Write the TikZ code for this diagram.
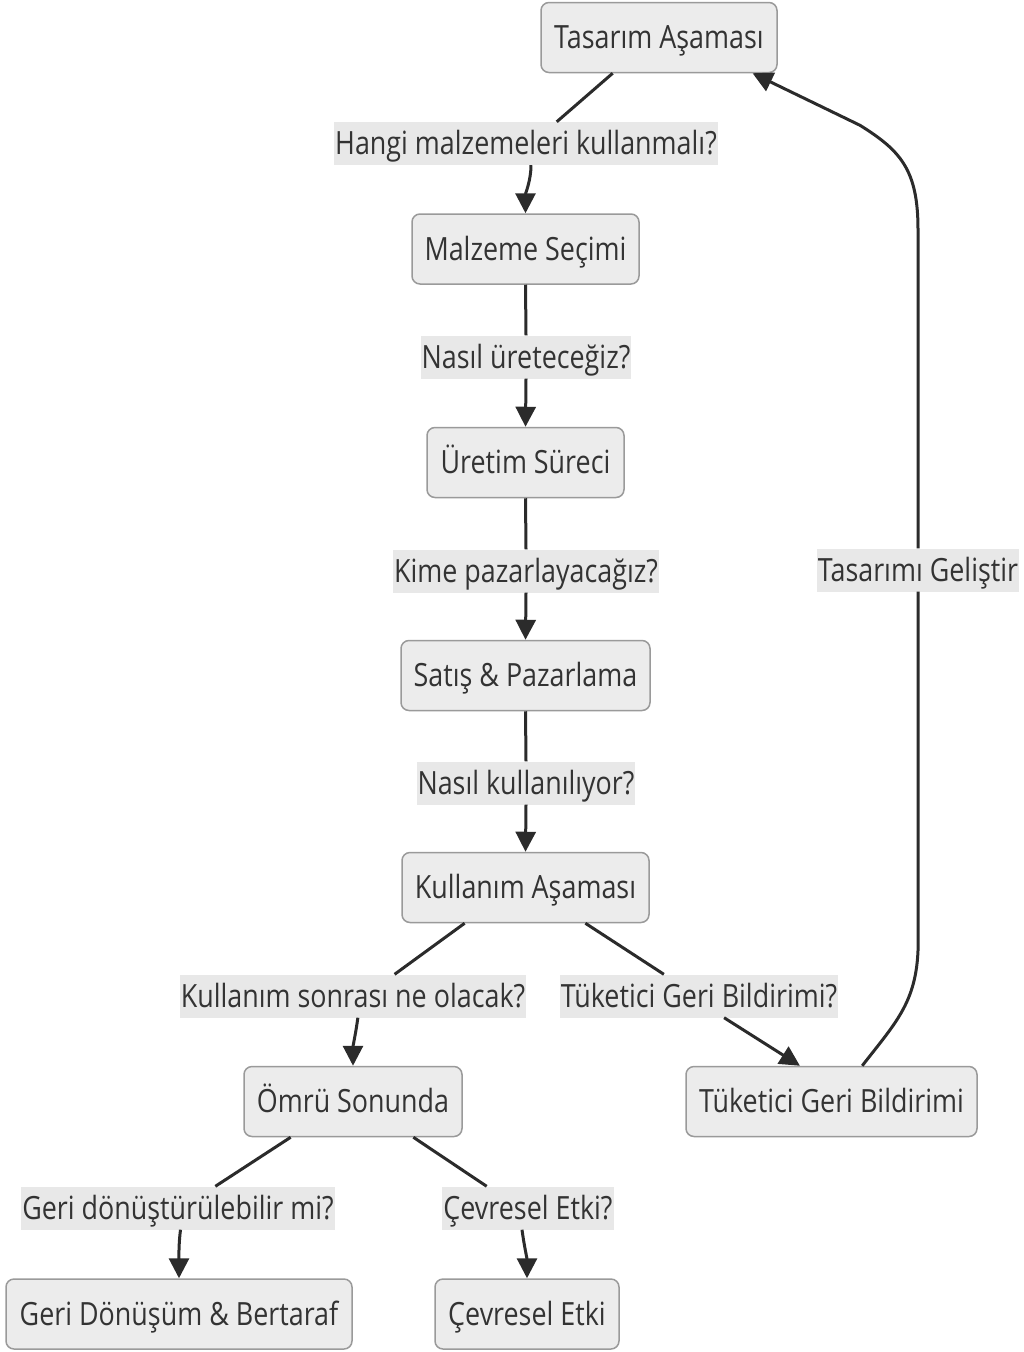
\documentclass[tikz,border=0pt]{standalone}
\usepackage{fontspec}
\setmainfont[FakeStretch=0.84]{Open Sans}
\usetikzlibrary{arrows.meta,calc}
\definecolor{nodefill}{HTML}{ECECEC}
\definecolor{nodeline}{HTML}{9A9A9A}
\definecolor{lblfill}{HTML}{E8E8E8}
\definecolor{txt}{HTML}{333333}
\definecolor{edgecol}{HTML}{2B2B2B}
\begin{document}
\begin{tikzpicture}[x=1pt,y=-1pt,
  box/.style={draw=nodeline,line width=1.5pt,fill=nodefill,rounded corners=8pt,
    minimum height=70pt,text=txt,font=\fontsize{32}{36}\selectfont,inner sep=0pt,
    text height=27pt,text depth=5pt},
  lbl/.style={fill=lblfill,text=txt,font=\fontsize{32}{36}\selectfont,
    inner ysep=0pt,inner xsep=1pt,minimum height=43pt,text height=27pt,text depth=5pt},
  conn/.style={draw=edgecol,line width=3pt},
  arr/.style={conn,-{Triangle[length=20pt,width=20pt]}}]
\useasboundingbox (0,0) rectangle (1024,1352);

% nodes
\node[box,minimum width=236pt] (T) at (659,37.5) {Tasarım Aşaması};
\node[box,minimum width=227pt] (M) at (525.5,249) {Malzeme Seçimi};
\node[box,minimum width=197pt] (U) at (525.5,462.5) {Üretim Süreci};
\node[box,minimum width=249pt] (S) at (525.5,675.5) {Satış \& Pazarlama};
\node[box,minimum width=247pt] (K) at (525.5,887.5) {Kullanım Aşaması};
\node[box,minimum width=218pt] (O) at (353,1101.5) {Ömrü Sonunda};
\node[box,minimum width=291pt] (B) at (831.5,1101.5) {Tüketici Geri Bildirimi};
\node[box,minimum width=346pt] (G) at (179,1314) {Geri Dönüşüm \& Bertaraf};
\node[box,minimum width=184pt] (C) at (527,1314) {Çevresel Etki};

% edge labels
\node[lbl] (l1) at (526,143.5) {Hangi malzemeleri kullanmalı?};
\node[lbl] (l2) at (526,357) {Nasıl üreteceğiz?};
\node[lbl] (l3) at (526,571) {Kime pazarlayacağız?};
\node[lbl] (l4) at (526,783) {Nasıl kullanılıyor?};
\node[lbl] (l5) at (353,996) {Kullanım sonrası ne olacak?};
\node[lbl] (l6) at (699,996) {Tüketici Geri Bildirimi?};
\node[lbl] (l7) at (178,1208) {Geri dönüştürülebilir mi?};
\node[lbl] (l8) at (528,1208) {Çevresel Etki?};
\node[lbl] (l9) at (918,570) {Tasarımı Geliştir};

% connectors
\draw[conn] ($(T.south west)!0.305!(T.south east)$) -- ($(l1.north west)!0.58!(l1.north east)$);
\draw[arr] ($(l1.south west)!0.513!(l1.south east)$) .. controls +(0,15) and +(0,-20) .. (M.north);

\draw[conn] (M.south) -- (l2.north);
\draw[arr] (l2.south) -- (U.north);
\draw[conn] (U.south) -- (l3.north);
\draw[arr] (l3.south) -- (S.north);
\draw[conn] (S.south) -- (l4.north);
\draw[arr] (l4.south) -- (K.north);

\draw[conn] ($(K.south west)!0.255!(K.south east)$) -- ($(l5.north west)!0.62!(l5.north east)$);
\draw[arr] ($(l5.south west)!0.514!(l5.south east)$) .. controls +(-2,15) and +(0,-20) .. (O.north);

\draw[conn] ($(K.south west)!0.741!(K.south east)$) -- ($(l6.north west)!0.374!(l6.north east)$);
\draw[arr] ($(l6.south west)!0.59!(l6.south east)$) -- ($(B.north west)!0.392!(B.north east)$);

\draw[conn] ($(O.south west)!0.216!(O.south east)$) -- ($(l7.north west)!0.619!(l7.north east)$);
\draw[arr] ($(l7.south west)!0.508!(l7.south east)$) .. controls +(-2,15) and +(0,-20) .. (G.north);

\draw[conn] ($(O.south west)!0.775!(O.south east)$) -- ($(l8.north west)!0.259!(l8.north east)$);
\draw[arr] ($(l8.south west)!0.465!(l8.south east)$) .. controls +(2,15) and +(0,-20) .. (C.north);

\draw[conn] ($(B.north west)!0.605!(B.north east)$) .. controls +(35,-45) and +(0,60) .. ++(56,-125) -- (l9.south);
\draw[arr] (l9.north) -- ++(0,-319) .. controls +(0,-60) and +(40,25) .. ++(-58,-104) -- ($(T.south west)!0.894!(T.south east)$);
\end{tikzpicture}
\end{document}
